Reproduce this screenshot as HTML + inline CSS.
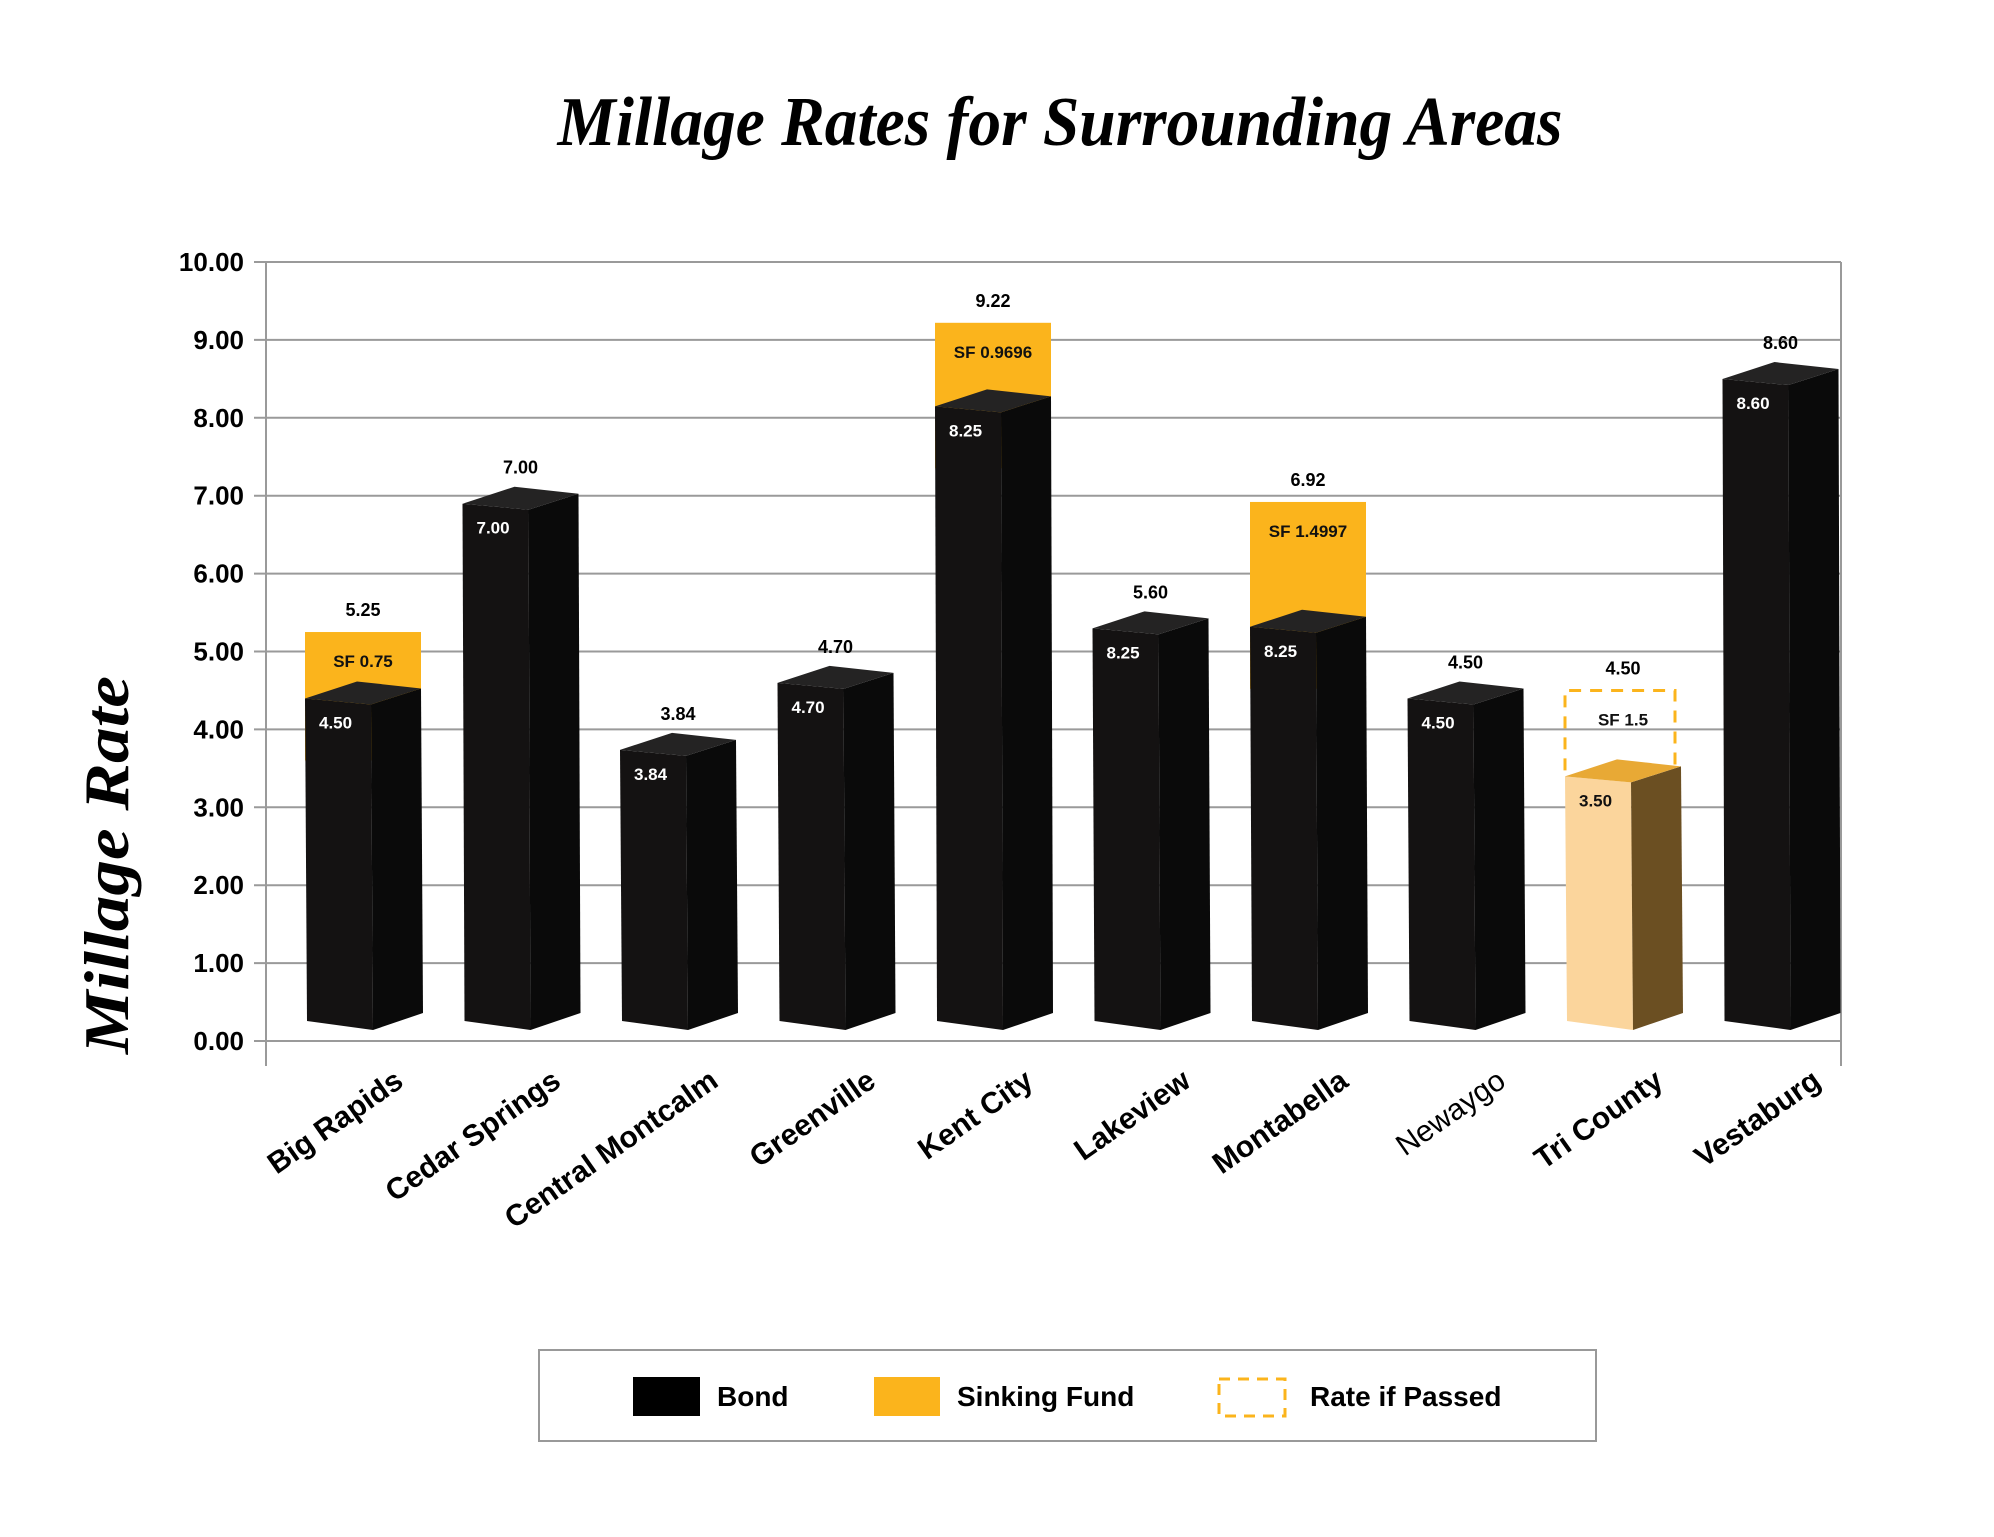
<!DOCTYPE html>
<html><head><meta charset="utf-8"><style>
html,body{margin:0;padding:0;background:#fff;}
svg{display:block;}
text{font-family:"Liberation Sans",sans-serif;}
</style></head><body>
<svg id="chart" width="1994" height="1537" viewBox="0 0 1994 1537" xmlns="http://www.w3.org/2000/svg">
<text x="1060" y="145" text-anchor="middle" font-family="Liberation Serif, serif" font-weight="bold" font-style="italic" font-size="70" textLength="1005" lengthAdjust="spacingAndGlyphs" style="font-family:'Liberation Serif',serif">Millage Rates for Surrounding Areas</text>
<text transform="translate(128,865) rotate(-90)" text-anchor="middle" font-weight="bold" font-style="italic" font-size="64" textLength="378" lengthAdjust="spacingAndGlyphs" style="font-family:'Liberation Serif',serif">Millage Rate</text>
<g id="grid"></g>
<g id="bars"></g>
<g id="labels"></g>
<g>
<rect x="539" y="1350" width="1057" height="91" fill="#fff" stroke="#999" stroke-width="2"/>
<rect x="633" y="1377" width="67" height="39" fill="#000"/>
<text x="717" y="1406" font-size="28" font-weight="bold">Bond</text>
<rect x="874" y="1377" width="66" height="39" fill="#fbb41c"/>
<text x="957" y="1406" font-size="28" font-weight="bold">Sinking Fund</text>
<rect x="1219" y="1379" width="66" height="37" fill="none" stroke="#fbb41c" stroke-width="3" stroke-dasharray="11,8"/>
<text x="1310" y="1406" font-size="28" font-weight="bold">Rate if Passed</text>
</g>
</svg>
<script>
const categories = ["Big Rapids","Cedar Springs","Central Montcalm","Greenville","Kent City","Lakeview","Montabella","Newaygo","Tri County","Vestaburg"];
const bondValues = [4.50,7.00,3.84,4.70,8.25,5.40,5.42,4.50,3.50,8.60];
const bondLabels = ["4.50","7.00","3.84","4.70","8.25","8.25","8.25","4.50","3.50","8.60"];
const sinkingFund = [0.75,0,0,0,0.9696,0,1.4997,0,0,0];
const sfLabels = ["SF 0.75","","","","SF 0.9696","","SF 1.4997","","SF 1.5",""];
const totalLabels = ["5.25","7.00","3.84","4.70","9.22","5.60","6.92","4.50","4.50","8.60"];
const proposedSF = [0,0,0,0,0,0,0,0,1.0,0];
const yTicks = [0,1,2,3,4,5,6,7,8,9,10];

const NS="http://www.w3.org/2000/svg";
const X0=266, X1=1841, Y0=1041, Y10=262;
const yScale = v => Y0 - (Y0-Y10)*v/10;
const bandW = (X1-X0)/categories.length;
const xLeft = i => X0 + i*bandW + 39;
function mk(tag, attrs, parent){const e=document.createElementNS(NS,tag);for(const k in attrs)e.setAttribute(k,attrs[k]);parent.appendChild(e);return e;}
const grid=document.getElementById('grid'), bars=document.getElementById('bars'), labels=document.getElementById('labels');

yTicks.forEach(t=>{
  const y=yScale(t);
  const l=mk('line',{x1:254,x2:X1,y1:y,y2:y,stroke:'#9a9a9a','stroke-width':2},grid);
  
  
  const tx=mk('text',{x:244,y:y+9,'text-anchor':'end','font-size':26,'font-weight':'bold'},grid);
  tx.textContent=t.toFixed(2);
  
  
});
const ax=mk('line',{x1:X0,x2:X0,y1:Y10,y2:1066,stroke:'#9a9a9a','stroke-width':2},grid);


const ax2=mk('line',{x1:X1,x2:X1,y1:Y10,y2:1066,stroke:'#9a9a9a','stroke-width':2},grid);



categories.forEach((c,i)=>{
  const x=xLeft(i), fw=66, sw=50;
  const bond=bondValues[i], sf=sinkingFund[i], total=bond+sf+proposedSF[i];
  const ty=yScale(bond)+8, by=1027;
  const tri = proposedSF[i]>0;
  if(sf>0){
    const r=mk('rect',{x:x,y:yScale(bond+sf),width:fw+sw,height:yScale(bond)+70-yScale(bond+sf),fill:'#fbb41c'},bars);
    
    
  }
  if(tri){
    const d=mk('path',{d:`M${x},${ty-6} V${yScale(bond+proposedSF[i])} H${x+fw+sw-6} V${ty-10}`,fill:'none',stroke:'#fbb41c','stroke-width':3,'stroke-dasharray':'12,9'},bars);
    
    
  }
  const g=mk('g',{},bars);
  
  
  const front=tri?'#fbd59c':'#141212', side=tri?'#6b4f22':'#0a0a0a', top=tri?'#e8a935':'#242323';
  mk('polygon',{points:`${x},${ty} ${x+fw},${ty+6} ${x+fw+2},${by+3} ${x+2},${by-6}`,fill:front},g);
  mk('polygon',{points:`${x+fw},${ty+6} ${x+fw+sw},${ty-10} ${x+fw+sw+2},${by-14} ${x+fw+2},${by+3}`,fill:side},g);
  mk('polygon',{points:`${x},${ty} ${x+fw},${ty+6} ${x+fw+sw},${ty-10} ${x+fw-14},${ty-17}`,fill:top},g);
  const il=mk('text',{x:x+14,y:ty+30,'font-size':17,'font-weight':'bold',fill:tri?'#111':'#fff'},labels);
  il.textContent=bondLabels[i];
  
  
  if(sfLabels[i]){
    const sy = tri ? yScale(bond+proposedSF[i]) : yScale(bond+sf);
    const sl=mk('text',{x:x+(fw+sw)/2,y:sy+35,'text-anchor':'middle','font-size':17,'font-weight':'bold',fill:'#111'},labels);
    sl.textContent=sfLabels[i];
    
    
  }
  const tl=mk('text',{x:x+58,y:yScale(total)-(sf>0||tri?16:22),'text-anchor':'middle','font-size':18,'font-weight':'bold'},labels);
  tl.textContent=totalLabels[i];
  
  
  const cl=mk('text',{transform:`translate(${x+100},1085) rotate(-35)`,'text-anchor':'end','font-size':30,'font-weight':c==='Newaygo'?'normal':'bold'},labels);
  cl.textContent=c;
  
  
});
</script>
</body></html>
